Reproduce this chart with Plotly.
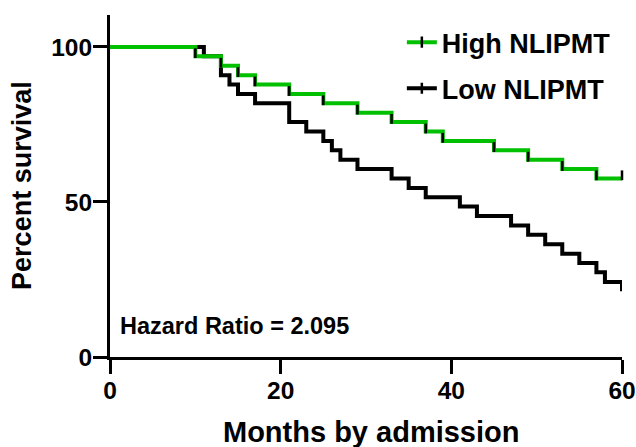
import plotly.graph_objects as go

# ---- data ----
months_high = [0, 10, 13, 15, 17, 21, 25, 29, 33, 37, 39, 45, 49, 53, 57, 60]
surv_high = [100, 97.0, 93.9, 90.9, 87.9, 84.8, 81.8, 78.8, 75.8, 72.7, 69.7, 66.7, 63.6, 60.6, 57.6, 57.6]
censor_high = [10, 13, 15, 17, 21, 25, 29, 33, 37, 39, 45, 49, 53, 57, 60]

months_low = [0, 11, 13, 14, 15, 17, 21, 23, 25, 26, 27, 29, 33, 35, 37, 41, 43, 47, 49, 51, 53, 55, 57, 58, 60]
surv_low = [100, 97.0, 90.9, 87.9, 84.8, 81.8, 75.8, 72.7, 69.7, 66.7, 63.6, 60.6, 57.6, 54.5, 51.5,
            48.5, 45.5, 42.4, 39.4, 36.4, 33.3, 30.3, 27.3, 24.2, 21.2]

series_names = ["High NLIPMT", "Low NLIPMT"]
x_ticks = [0, 20, 40, 60]
y_ticks = [0, 50, 100]
hazard_text = "Hazard Ratio = 2.095"

GREEN = "rgb(0,192,0)"
BLACK = "black"
FONT = "Liberation Sans"


def level_at(times, vals, t):
    lv = vals[0]
    for ti, vi in zip(times, vals):
        if ti <= t:
            lv = vi
    return lv


tick_offset = 1.0  # censor ticks sit just above the curve
censor_y = [level_at(months_high, surv_high, t) + tick_offset for t in censor_high]

fig = go.Figure()

fig.add_trace(go.Scatter(x=months_low, y=surv_low, mode="lines", line=dict(color=BLACK, width=4, shape="hv"),
                         showlegend=False, hoverinfo="skip"))
fig.add_trace(go.Scatter(x=months_high, y=surv_high, mode="lines", line=dict(color=GREEN, width=4, shape="hv"),
                         showlegend=False, hoverinfo="skip"))
fig.add_trace(go.Scatter(x=censor_high, y=censor_y, mode="markers",
                         marker=dict(symbol="line-ns", size=7, line=dict(color=BLACK, width=2.5)),
                         showlegend=False, hoverinfo="skip", cliponaxis=False))

# legend entries
for name, col in zip(series_names, [GREEN, BLACK]):
    fig.add_trace(go.Scatter(x=[None], y=[None], mode="lines+markers", name=name, legendgroup=name,
                             line=dict(color=col, width=4),
                             marker=dict(symbol="line-ns", size=8, color=BLACK, line=dict(color=BLACK, width=2.5))))

axis_common = dict(showline=True, linecolor=BLACK, linewidth=3, ticks="outside", ticklen=14, tickwidth=3,
                   tickcolor=BLACK, showgrid=False, zeroline=False, ticklabelstandoff=-4, automargin=False,
                   tickfont=dict(family=FONT, size=24.5, color=BLACK, weight="bold"))

fig.update_layout(
    width=636, height=447, autosize=False,
    margin=dict(l=110, r=14, t=15, b=90),
    plot_bgcolor="white", paper_bgcolor="white",
    xaxis=dict(range=[0, 60], tickvals=x_ticks, **axis_common),
    yaxis=dict(range=[0, 110.3], tickvals=y_ticks, **axis_common),
    legend=dict(x=0.57, y=0.991, xanchor="left", yanchor="top", bgcolor="rgba(0,0,0,0)",
                font=dict(family=FONT, size=27, color=BLACK, weight="bold"),
                itemwidth=30, tracegroupgap=8, traceorder="grouped"),
    annotations=[
        dict(text=hazard_text, xref="paper", yref="paper", x=0.015, y=0.09, xanchor="left", yanchor="middle",
             showarrow=False, font=dict(family=FONT, size=23.5, color=BLACK, weight="bold")),
        dict(text="Months by admission", xref="paper", yref="paper", x=0.51, y=-0.219, xanchor="center",
             yanchor="middle", showarrow=False, font=dict(family=FONT, size=29, color=BLACK, weight="bold")),
        dict(text="Percent survival", xref="paper", yref="paper", x=-0.172, y=0.503, xanchor="center",
             yanchor="middle", textangle=-90, showarrow=False,
             font=dict(family=FONT, size=27, color=BLACK, weight="bold")),
    ],
)

fig.write_html("out.html", config={"displayModeBar": False, "responsive": False},
               post_script="document.body.style.margin='0';document.body.style.overflow='hidden';")
